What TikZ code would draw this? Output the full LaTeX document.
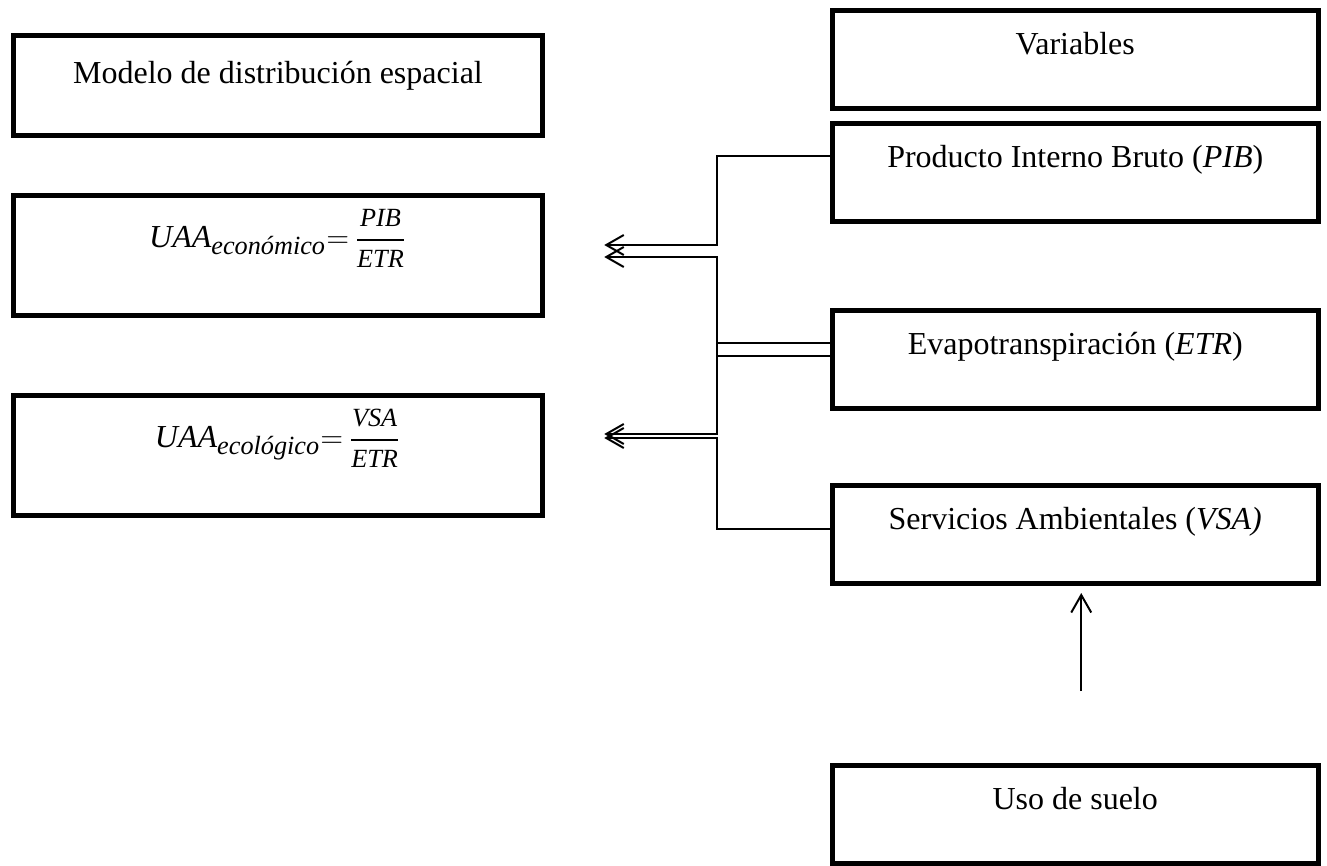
\documentclass[tikz,border=0pt]{standalone}
\usepackage{amsmath}
\usepackage{fontspec}
\setmainfont{Liberation Serif}
\usetikzlibrary{%
	positioning,
	calc,
	arrows.meta
}
\newcommand{\smallit}[1]{\text{\fontsize{10.5}{11}\selectfont\itshape #1}}
\newcommand{\uaafrac}[2]{\genfrac{}{}{0.8pt}{0}{\smallit{#1}}{\smallit{#2}}}
\begin{document}
\begin{tikzpicture}[
		font=\fontsize{12.8}{15}\selectfont,
		SModel/.style={draw,shape=rectangle,line width=2pt,minimum width=211.4pt,inner sep=0pt,text height=19.2pt,text depth=20.8pt},
		SFormula/.style={SModel,text height=20.8pt,text depth=27.2pt},
		SVar/.style={draw,shape=rectangle,line width=2pt,minimum width=194.4pt,inner sep=0pt,text height=17.6pt,text depth=21.6pt},
		link/.style={line width=0.8pt},
		linkarrow/.style={link,-{Straight Barb[length=7pt,width=8pt,line width=0.8pt]}}
	]
	
		%model
		\node(model) [SModel] {Modelo de distribución espacial};
		\node(uaaEco) [SFormula, below=22pt of model] {$\textit{UAA}_{\smallit{económico}}{=}\,\uaafrac{PIB}{ETR}$};
		\node(uaaEcol) [SFormula, below=30pt of uaaEco] {$\textit{UAA}_{\smallit{ecológico}}{=}\,\uaafrac{VSA}{ETR}$};
		
		%variables
		\node(vars) [SVar, above right=10pt and 114pt of model.north east, anchor=north west] {Variables};
		\node(pib) [SVar, below=4pt of vars] {Producto Interno Bruto (\textit{PIB})};
		\node(etr) [SVar, below=33.6pt of pib] {Evapotranspiración (\textit{ETR})};
		\node(vsa) [SVar, below=28.8pt of etr] {Servicios Ambientales (\textit{VSA)}};
		\node(uso) [SVar, below=70.8pt of vsa] {Uso de suelo};
		
		%connectors
		\coordinate (tipEco1) at ($(uaaEco.east)+(23.8pt,4pt)$);
		\coordinate (tipEco2) at ($(uaaEco.east)+(23.8pt,-0.8pt)$);
		\coordinate (tipEcol1) at ($(uaaEcol.east)+(23.8pt,8.4pt)$);
		\coordinate (tipEcol2) at ($(uaaEcol.east)+(23.8pt,6.8pt)$);
		\draw [linkarrow] ([yshift=6.6pt]pib.west) -- ++(-45pt,0) |- (tipEco1);
		\draw [linkarrow] ([yshift=1.4pt]etr.west) -- ++(-45pt,0) |- (tipEco2);
		\draw [linkarrow] ([yshift=6.6pt]etr.west) -- ++(-45pt,0) |- (tipEcol1);
		\draw [linkarrow] ([yshift=2pt]vsa.west) -- ++(-45pt,0) |- (tipEcol2);
		\draw [linkarrow] ([xshift=2.4pt,yshift=28.6pt]uso.north) -- ([xshift=2.4pt,yshift=-3pt]vsa.south);
		
		\useasboundingbox (-111.2pt,34pt) rectangle (419.6pt,-310pt);
		
	\end{tikzpicture}
\end{document}
